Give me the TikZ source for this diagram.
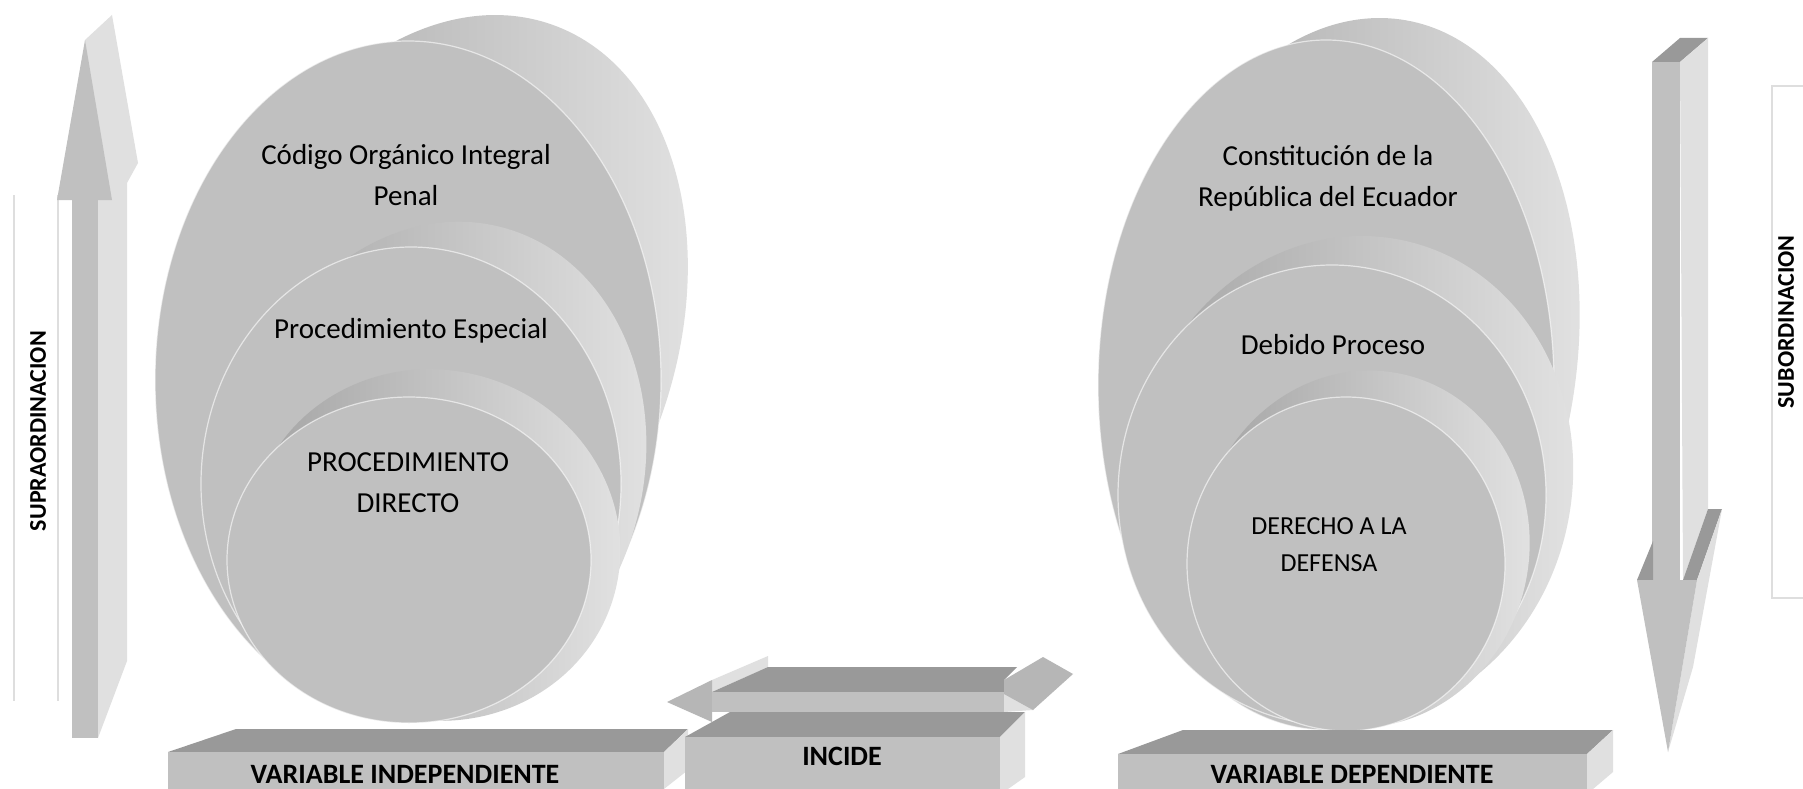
\documentclass[tikz,border=0pt]{standalone}
\usepackage{fontspec}
\setmainfont{Carlito}
\definecolor{faceGray}{RGB}{192,192,192}
\definecolor{topGray}{RGB}{153,153,153}
\definecolor{sideGray}{RGB}{224,224,224}
\definecolor{headGray}{RGB}{182,182,182}
\definecolor{rimDark}{RGB}{160,160,160}
\definecolor{rimLight}{RGB}{228,228,228}
\definecolor{frameGray}{RGB}{222,222,222}
\begin{document}
\begin{tikzpicture}[x=1pt, y=-1pt,
  face/.style={fill=faceGray},
  topface/.style={fill=topGray},
  sideface/.style={fill=sideGray},
  rim/.style={left color=rimDark, right color=rimLight},
  disc/.style={fill=faceGray, draw=white, line width=1.2pt, draw opacity=0.6},
  frame/.style={draw=frameGray, line width=1.2pt},
  disctext/.style={font=\fontsize{29}{41}\selectfont, align=center},
  boxtext/.style={font=\fontsize{28}{34}\selectfont\bfseries},
  sidetext/.style={font=\fontsize{24}{29}\selectfont\bfseries, rotate=90}]
  \fill[white] (0,0) rectangle (1803,789);
  \useasboundingbox (0,0) rectangle (1803,789);

  % Upward arrow
  \draw[frame] (14,195) -- (14,701);
  \draw[frame] (58,195) -- (58,701);
  \fill[sideface] (85,40) -- (112,15) -- (138,163) -- (127,183) -- (127,661) -- (98,738) -- (98,200) -- cycle;
  \fill[face] (72,200) rectangle (98,738);
  \fill[face] (57,200) -- (85,40) -- (112,200) -- cycle;
  \node[sidetext] (supra) at (38,431) {SUPRAORDINACION};

  % Left discs
  \path[rim, rotate around={-20:(439,340)}] (439,340) ellipse [x radius=235, y radius=335];
  \path[disc] (408,380) ellipse [x radius=253, y radius=339];
  \path[rim, rotate around={-15:(438,469)}] (438,469) ellipse [x radius=205, y radius=250];
  \path[disc] (411,484) ellipse [x radius=210, y radius=237];
  \path[rim, rotate around={-15:(435,545)}] (435,545) ellipse [x radius=186, y radius=175];
  \path[disc] (409,560) ellipse [x radius=182, y radius=163];
  \node[disctext] (coip) at (406,175) {Código Orgánico Integral\\Penal};
  \node[disctext] (especial) at (411,331) {Procedimiento Especial};
  \node[disctext] (directo) at (408,483) {PROCEDIMIENTO\\DIRECTO};

  % Right discs
  \path[rim, rotate around={-10:(1345,367)}] (1345,367) ellipse [x radius=230, y radius=352];
  \path[disc] (1326,385) ellipse [x radius=228, y radius=345];
  \path[rim, rotate around={-12:(1352,480)}] (1352,480) ellipse [x radius=220, y radius=245];
  \path[disc] (1332,495) ellipse [x radius=214, y radius=230];
  \path[rim, rotate around={-12:(1364,549)}] (1364,549) ellipse [x radius=165, y radius=179];
  \path[disc] (1346,564) ellipse [x radius=159, y radius=167];
  \node[disctext] (constitucion) at (1328,178) {Constitución de la\\República del Ecuador};
  \node[disctext] (debido) at (1333,345) {Debido Proceso};
  \node[disctext, font=\fontsize{26}{37}\selectfont] (defensa) at (1329,545) {DERECHO A LA\\DEFENSA};

  % Independent variable box
  \fill[topface] (168,752) -- (236,729) -- (688,729) -- (664,752) -- cycle;
  \fill[sideface] (664,752) -- (688,729) -- (688,770) -- (664,789) -- cycle;
  \fill[face] (168,752) rectangle (664,789);
  \node[boxtext] (indep) at (405,774) {VARIABLE INDEPENDIENTE};

  % Double arrow over INCIDE
  \fill[sideface] (712,680) -- (768,656) -- (768,667) -- (712,692) -- cycle;
  \fill[headGray] (667,702) -- (712,680) -- (712,722) -- cycle;
  \fill[topface] (712,692) -- (768,667) -- (1017,667) -- (1004,680) -- (1004,692) -- cycle;
  \fill[face] (712,692) rectangle (1004,712);
  \fill[sideface] (1004,690) -- (1033,710) -- (1004,712) -- cycle;
  \fill[headGray] (1004,680) -- (1043,657) -- (1073,674) -- (1033,710) -- (1004,694) -- cycle;

  % INCIDE box
  \fill[topface] (685,737) -- (730,712) -- (1025,712) -- (1000,737) -- cycle;
  \fill[sideface] (1000,737) -- (1025,712) -- (1025,777) -- (1008,789) -- (1000,789) -- cycle;
  \fill[face] (685,737) rectangle (1000,789);
  \node[boxtext] (incide) at (842,756) {INCIDE};

  % Dependent variable box
  \fill[topface] (1118,754) -- (1183,730) -- (1613,730) -- (1587,754) -- cycle;
  \fill[sideface] (1587,754) -- (1613,730) -- (1613,772) -- (1593,789) -- (1587,789) -- cycle;
  \fill[face] (1118,754) rectangle (1587,789);
  \node[boxtext] (dep) at (1352,774) {VARIABLE DEPENDIENTE};

  % Downward arrow
  \fill[topface] (1652,62) -- (1680,38) -- (1708,38) -- (1680,62) -- cycle;
  \fill[sideface] (1680,62) -- (1708,38) -- (1708,509) -- (1683,580) -- cycle;
  \fill[face] (1652,62) rectangle (1680,580);
  \fill[topface] (1637,580) -- (1653,541) -- (1653,580) -- cycle;
  \fill[topface] (1683,580) -- (1708,509) -- (1722,509) -- (1697,580) -- cycle;
  \fill[sideface] (1697,580) -- (1722,509) -- (1693,667) -- (1668,752) -- cycle;
  \fill[face] (1637,580) -- (1697,580) -- (1668,752) -- cycle;
  \draw[frame] (1815,86) -- (1772,86) -- (1772,598) -- (1815,598);
  \node[sidetext] (sub) at (1786,322) {SUBORDINACION};
\end{tikzpicture}
\end{document}
